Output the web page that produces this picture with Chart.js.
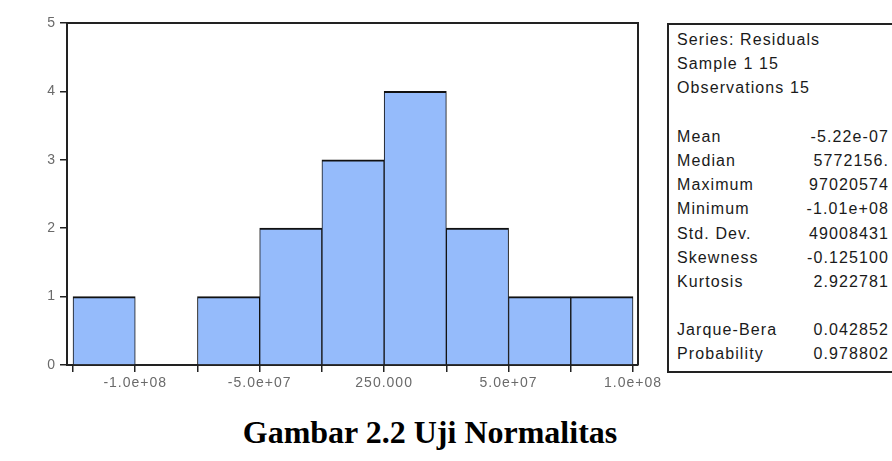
<!DOCTYPE html>
<html>
<head>
<meta charset="utf-8">
<script src="https://cdn.jsdelivr.net/npm/chart.js@4/dist/chart.umd.min.js"></script>
<style>
  body { margin: 0; width: 892px; height: 461px; overflow: hidden; background: #fff; position: relative; }
  #hist { position: absolute; left: 0; top: 0; }
  #stats { position: absolute; left: 667px; top: 23px; width: 240px; height: 350px; box-sizing: border-box;
           border: 2px solid #222; background: #fff; padding: 3px 0 0 8px;
           font-family: "Liberation Sans", Arial, sans-serif; font-size: 16px; letter-spacing: 1.1px; color: #1a1a1a; }
  .row { display: flex; justify-content: space-between; width: 212px; height: 24.2px; line-height: 24.2px; white-space: nowrap; }
  #caption { position: absolute; left: 0; top: 416px; width: 860px; text-align: center;
             font-family: "Liberation Serif", "Times New Roman", serif; font-weight: bold; font-size: 32px; line-height: 32px; color: #000; }
</style>
</head>
<body>
<canvas id="hist" width="700" height="400"></canvas>
<div id="stats"></div>
<div id="caption">Gambar 2.2 Uji Normalitas</div>
<script>
// ---------- Data ----------
var binCenters = [-1.125e8, -8.75e7, -6.25e7, -3.75e7, -1.25e7, 1.25e7, 3.75e7, 6.25e7, 8.75e7];
var binCounts = [1, 0, 1, 2, 3, 4, 2, 1, 1];
var binEdges = [-1.25e8, -1e8, -7.5e7, -5e7, -2.5e7, 0, 2.5e7, 5e7, 7.5e7, 1e8];
var xTickValues = [-1e8, -5e7, 0, 5e7, 1e8];
var xTickLabels = ['-1.0e+08', '-5.0e+07', '250.000', '5.0e+07', '1.0e+08'];
var yTickValues = [0, 1, 2, 3, 4, 5];

var statHeader = ['Series: Residuals', 'Sample 1 15', 'Observations 15'];
var statLabels = ['Mean', 'Median', 'Maximum', 'Minimum', 'Std. Dev.', 'Skewness', 'Kurtosis', '', 'Jarque-Bera', 'Probability'];
var statValues = ['-5.22e-07', '5772156.', '97020574', '-1.01e+08', '49008431', '-0.125100', '2.922781', '', '0.042852', '0.978802'];

// ---------- Stats box ----------
var html = '';
statHeader.forEach(function (h) { html += '<div class="row"><span>' + h + '</span></div>'; });
html += '<div class="row"></div>';
statLabels.forEach(function (l, i) {
  html += '<div class="row"><span>' + l + '</span><span>' + statValues[i] + '</span></div>';
});
document.getElementById('stats').innerHTML = html;

// ---------- Histogram ----------
var framePlugin = {
  id: 'frame',
  beforeDraw: function (chart) { chart.ctx.letterSpacing = '1px'; },
  afterDraw: function (chart) {
    var a = chart.chartArea, ctx = chart.ctx;
    ctx.save();
    ctx.strokeStyle = '#222';
    ctx.lineWidth = 2;
    ctx.beginPath();
    ctx.moveTo(a.left, a.top);
    ctx.lineTo(a.right, a.top);
    ctx.lineTo(a.right, a.bottom);
    ctx.stroke();
    ctx.restore();
  }
};

new Chart(document.getElementById('hist'), {
  type: 'bar',
  data: {
    datasets: [{
      data: binCenters.map(function (c, i) { return { x: c, y: binCounts[i] }; }),
      backgroundColor: '#95bbfb',
      borderColor: '#111',
      borderWidth: { top: 2, left: 1, right: 1, bottom: 0 },
      borderSkipped: false,
      barPercentage: 1,
      categoryPercentage: 1
    }]
  },
  plugins: [framePlugin],
  options: {
    responsive: false,
    devicePixelRatio: 1,
    animation: false,
    layout: { padding: { left: 0, top: 23, right: 62, bottom: 5 } },
    plugins: { legend: { display: false }, tooltip: { enabled: false } },
    scales: {
      x: {
        type: 'linear',
        offset: false,
        min: -1.2742e8,
        max: 1.02e8,
        afterBuildTicks: function (scale) { scale.ticks = binEdges.map(function (v) { return { value: v }; }); },
        afterFit: function (scale) { scale.height = 30; },
        grid: { offset: false, drawOnChartArea: false, drawTicks: true, tickLength: 7, tickColor: '#222', lineWidth: 1.5 },
        border: { display: true, color: '#222', width: 2 },
        ticks: {
          autoSkip: false, maxRotation: 0, padding: 3, color: '#6a6a6a',
          font: { family: 'Liberation Sans', size: 14 },
          callback: function (v) { var k = xTickValues.indexOf(v); return k < 0 ? '' : xTickLabels[k]; }
        }
      },
      y: {
        min: 0,
        max: 5,
        afterBuildTicks: function (scale) { scale.ticks = yTickValues.map(function (v) { return { value: v }; }); },
        afterFit: function (scale) { scale.width = 67; },
        grid: { drawOnChartArea: false, drawTicks: true, tickLength: 7, tickColor: '#222', lineWidth: 1.5 },
        border: { display: true, color: '#222', width: 2 },
        ticks: { padding: 4, color: '#6a6a6a', font: { family: 'Liberation Sans', size: 14 } }
      }
    }
  }
});
</script>
</body>
</html>
